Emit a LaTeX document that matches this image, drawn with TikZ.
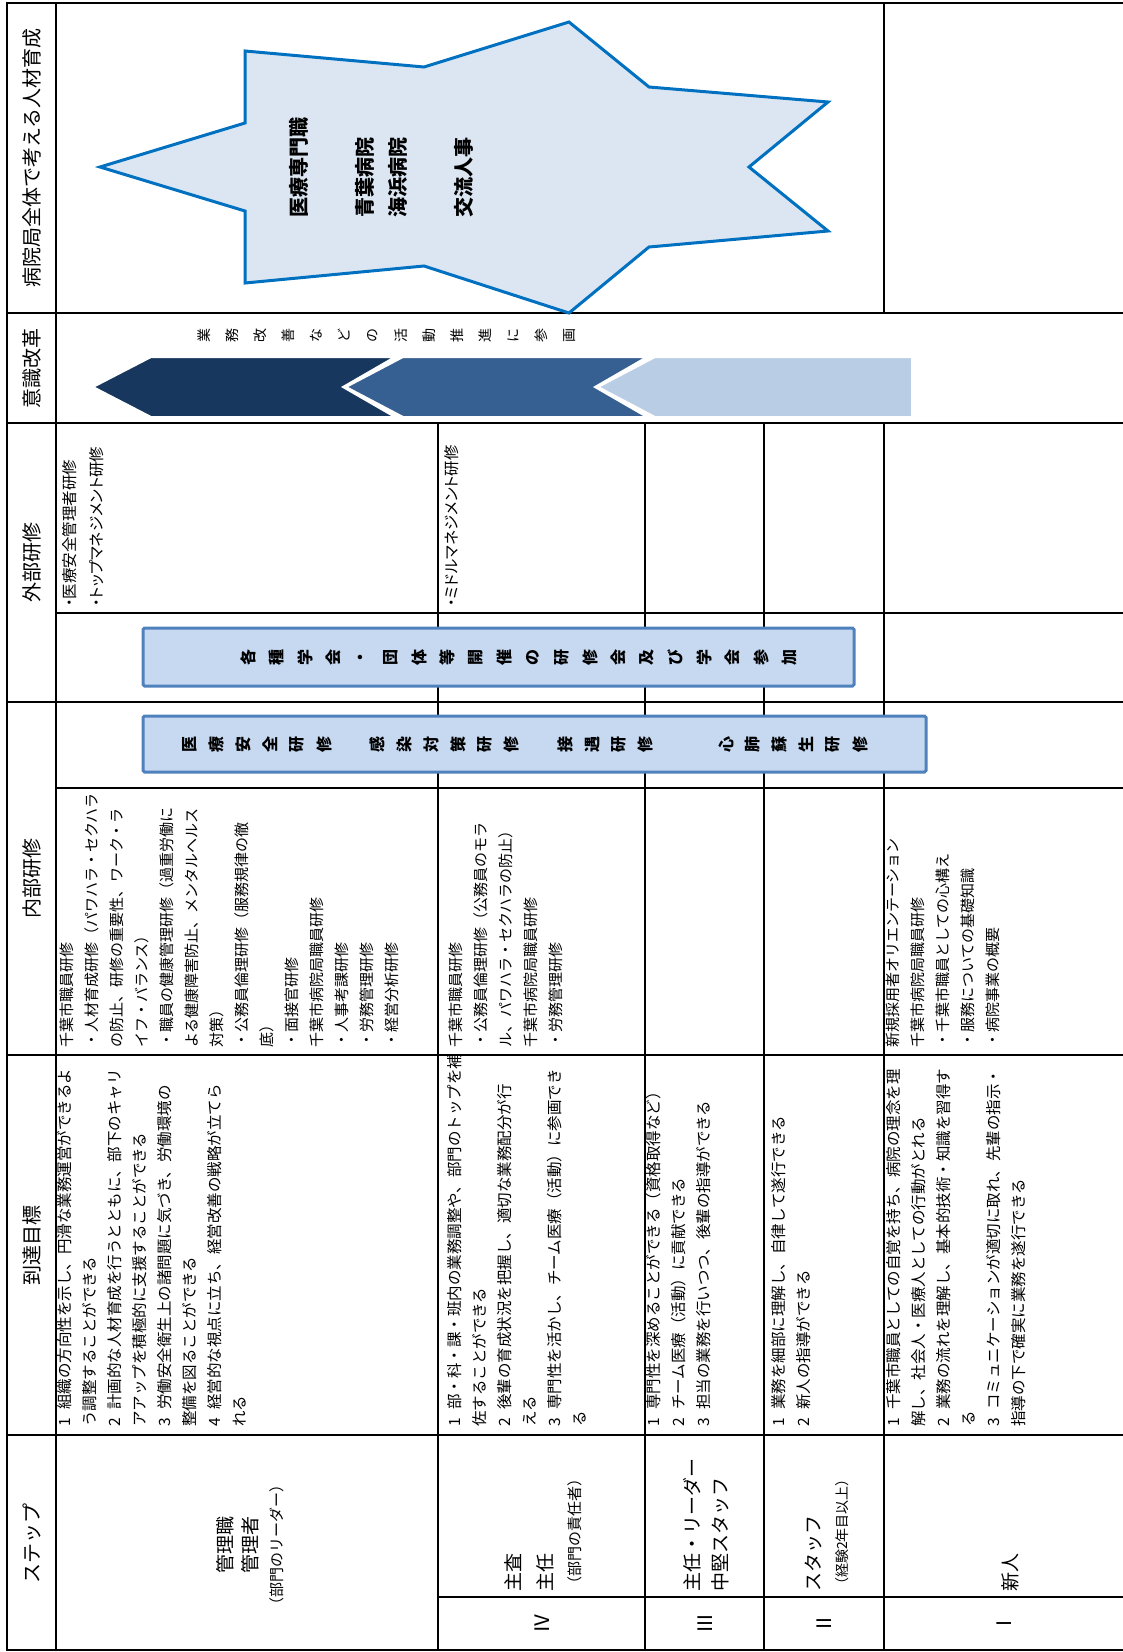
\documentclass[tikz,border=0pt]{standalone}
\usepackage{fontspec}
\setmainfont{Noto Sans CJK JP}
\newfontfamily\jpp{Noto Sans CJK JP}[RawFeature=+palt]
\definecolor{starfill}{RGB}{220,230,242}
\definecolor{starline}{RGB}{0,112,192}
\definecolor{boxfill}{RGB}{198,217,241}
\definecolor{boxline}{RGB}{79,129,189}
\definecolor{chevA}{RGB}{23,55,94}
\definecolor{chevB}{RGB}{55,96,146}
\definecolor{chevC}{RGB}{185,205,229}
\newcommand{\gno}[1]{#1\hspace{0.55em}}
\tikzset{
  rule/.style={line width=1.2pt},
  boldrule/.style={line width=2.6pt},
  head/.style={rotate=90, inner sep=0pt, font=\fontsize{20}{24}\selectfont},
  cell/.style={rotate=90, anchor=north west, align=left, inner sep=0pt, font=\fontsize{15.5}{25}\selectfont},
  incell/.style={cell, font=\fontsize{15}{25}\selectfont},
  stepname/.style={rotate=90, anchor=west, inner sep=0pt, font=\fontsize{19}{24}\selectfont},
  stepnote/.style={rotate=90, anchor=west, inner sep=0pt, font=\fontsize{15}{20}\selectfont},
  tate/.style={rotate=90, inner sep=0pt},
  box/.style={draw=boxline, fill=boxfill, line width=3pt, rounded corners=1.5pt},
  chev/.style={draw=white, line width=2pt, line join=miter}
}
\begin{document}
\begin{tikzpicture}[x=1pt,y=-1pt]
\useasboundingbox (0,0) rectangle (1123,1652);
% grid of the table
\draw[rule] (7,3) -- (1123,3);
\draw[rule] (7,1650) -- (1123,1650);
\foreach \yy in {313,423,702,1055,1435}
  \draw[rule] (7,\yy) -- (1123,\yy);
\foreach \yy in {613,788}
  \draw[rule] (56,\yy) -- (1123,\yy);
\draw[rule] (438,1597) -- (1123,1597);
\draw[rule] (56,3) -- (56,1650);
\draw[rule] (438,423) -- (438,1650);
\draw[rule] (764,423) -- (764,1650);
\draw[boldrule] (7,2) -- (7,1651);
\draw[boldrule] (645,423) -- (645,1650);
\draw[boldrule] (884,3) -- (884,313);
\draw[boldrule] (884,423) -- (884,1650);
%
% header column
\node[head] (h-all) at (32,158) {病院局全体で考える人材育成};
\node[head] (h-mind) at (32,368) {意識改革};
\node[head] (h-out) at (32,562) {外部研修};
\node[head] (h-in) at (32,878) {内部研修};
\node[head] (h-goal) at (32,1245) {到達目標};
\node[head] (h-step) at (32,1543) {ステップ};
%
% star
\filldraw[fill=starfill, draw=starline, line width=3pt] (100,167) -- (245,123) -- (245,51) -- (424,67) -- (569,22) -- (649,87) -- (828,102) -- (749,167) -- (828,231) -- (649,247) -- (569,313) -- (424,266) -- (245,283) -- (245,211) -- cycle;
\node[rotate=90, anchor=north west, align=left, inner sep=0pt, font=\bfseries\fontsize{20}{33}\selectfont] (star) at (289,218) {医療専門職\\[33pt]青葉病院\\海浜病院\\[33pt]交流人事};
%
% chevrons
\filldraw[chev, fill=chevC] (598,387) -- (655,357) -- (912,357) -- (912,417) -- (655,417) -- cycle;
\filldraw[chev, fill=chevB] (346,387) -- (403,357) -- (647,357) -- (595,387) -- (647,417) -- (403,417) -- cycle;
\filldraw[chev, fill=chevA] (93,387) -- (151,357) -- (395,357) -- (343,387) -- (395,417) -- (151,417) -- cycle;
\foreach \c [count=\i from 0] in {業,務,改,善,な,ど,の,活,動,推,進,に,参,画}
  \node[tate, font=\fontsize{14}{14}\selectfont] (kk\i) at ({204+28.1*\i},335) {\c};
%
% blue boxes
\draw[box] (143,628) rectangle (854,686);
\draw[box] (143,716) rectangle (926,772);
\foreach \c [count=\i from 0] in {各,種,学,会,・,団,体,等,開,催,の,研,修,会,及,び,学,会,参,加}
  \node[tate, font=\bfseries\fontsize{16}{16}\selectfont] (gb\i) at ({248+28.5*\i},657) {\c};
\foreach \c [count=\i from 0] in {医,療,安,全,研,修,{},感,染,対,策,研,修,{},接,遇,研,修,{},{},心,肺,蘇,生,研,修}
  \node[tate, font=\bfseries\fontsize{16}{16}\selectfont] (nb\i) at ({190+26.8*\i},744) {\c};
%
% manager row
\node[cell, font=\jpp\fontsize{15.5}{27}\selectfont] (m-out) at (62,607) {・医療安全管理者研修\\・トップマネジメント研修};
\node[incell] (m-in) at (60,1048) {千葉市職員研修\\・人材育成研修（パワハラ・セクハラ\\の防止、研修の重要性、ワーク・ラ\\イフ・バランス）\\・職員の健康管理研修（過重労働に\\よる健康障害防止、メンタルヘルス\\対策）\\・公務員倫理研修（服務規律の徹\\底）\\・面接官研修\\千葉市病院局職員研修\\・人事考課研修\\・労務管理研修\\・経営分析研修};
\node[cell] (m-goal) at (57,1427) {\gno{1}組織の方向性を示し、円滑な業務運営ができるよ\\う調整することができる\\\gno{2}計画的な人材育成を行うとともに、部下のキャリ\\アアップを積極的に支援することができる\\\gno{3}労働安全衛生上の諸問題に気づき、労働環境の\\整備を図ることができる\\\gno{4}経営的な視点に立ち、経営改善の戦略が立てら\\れる};
\node[stepname, anchor=center] (m-s1) at (225,1545) {管理職};
\node[stepname, anchor=center] (m-s2) at (250,1545) {管理者};
\node[stepnote, anchor=center] (m-s3) at (277,1545) {（部門のリーダー）};
%
% step IV
\node[cell, font=\jpp\fontsize{15.5}{25}\selectfont] (iv-out) at (444,607) {・ミドルマネジメント研修};
\node[incell] (iv-in) at (449,1048) {千葉市職員研修\\・公務員倫理研修（公務員のモラ\\ル、パワハラ・セクハラの防止）\\千葉市病院局職員研修\\・労務管理研修};
\node[cell] (iv-goal) at (447,1427) {\gno{1}部・科・課・班内の業務調整や、部門のトップを補\\佐することができる\\\gno{2}後輩の育成状況を把握し、適切な業務配分が行\\える\\\gno{3}専門性を活かし、チーム医療（活動）に参画でき\\る};
\node[stepname] (iv-s1) at (513,1592) {主査};
\node[stepname] (iv-s2) at (545,1592) {主任};
\node[stepnote] (iv-s3) at (575,1592) {（部門の責任者）};
\node[head] (iv-no) at (542,1623) {Ⅳ};
%
% step III
\node[cell] (iii-goal) at (646,1427) {\gno{1}専門性を深めることができる（資格取得など）\\\gno{2}チーム医療（活動）に貢献できる\\\gno{3}担当の業務を行いつつ、後輩の指導ができる};
\node[stepname] (iii-s1) at (692,1592) {主任・リーダー};
\node[stepname] (iii-s2) at (720,1592) {中堅スタッフ};
\node[head] (iii-no) at (705,1623) {Ⅲ};
%
% step II
\node[cell] (ii-goal) at (771,1427) {\gno{1}業務を細部に理解し、自律して遂行できる\\\gno{2}新人の指導ができる};
\node[stepname] (ii-s1) at (813,1592) {スタッフ};
\node[stepnote, font=\fontsize{14}{18}\selectfont] (ii-s2) at (842,1592) {（経験2年目以上）};
\node[head] (ii-no) at (824,1623) {Ⅱ};
%
% step I
\node[incell] (i-in) at (886,1048) {新規採用者オリエンテーション\\千葉市病院局職員研修\\・千葉市職員としての心構え\\・服務についての基礎知識\\・病院事業の概要};
\node[cell] (i-goal) at (886,1427) {\gno{1}千葉市職員としての自覚を持ち、病院の理念を理\\解し、社会人・医療人としての行動がとれる\\\gno{2}業務の流れを理解し、基本的技術・知識を習得す\\る\\\gno{3}コミュニケーションが適切に取れ、先輩の指示・\\指導の下で確実に業務を遂行できる};
\node[stepname] (i-s1) at (1010,1592) {新人};
\node[head] (i-no) at (1004,1623) {Ⅰ};
\end{tikzpicture}
\end{document}
